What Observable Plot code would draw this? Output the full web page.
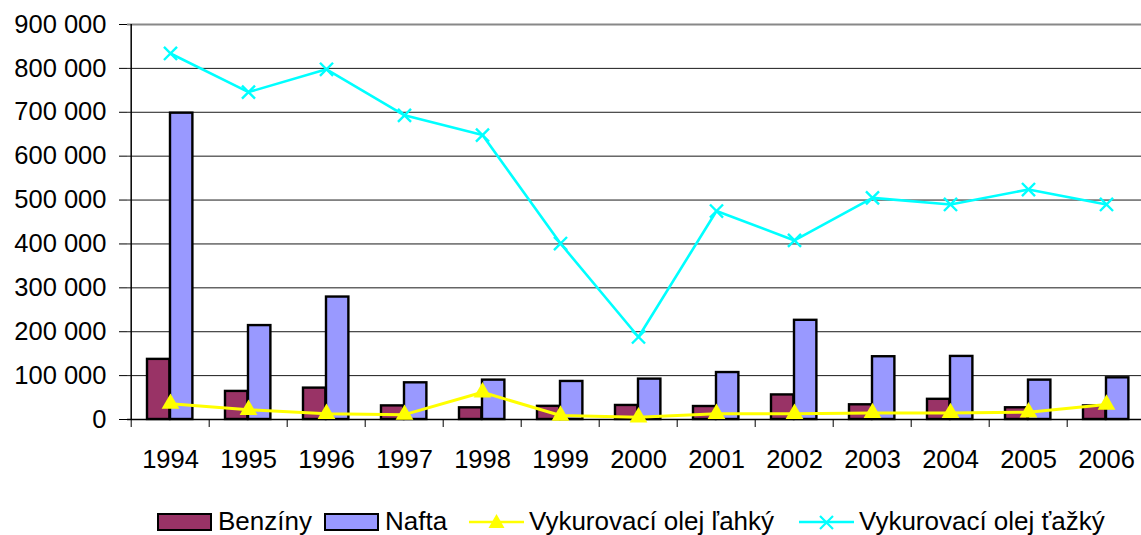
<!DOCTYPE html>
<html>
<head>
<meta charset="utf-8">
<script src="https://cdn.jsdelivr.net/npm/d3@7"></script>
<script src="https://cdn.jsdelivr.net/npm/@observablehq/plot@0.6"></script>
<style>
  html, body { margin: 0; padding: 0; background: #fff; overflow: hidden; }
  body { font-family: "Liberation Sans", Arial, sans-serif; color: #000; }
  #legend { position: relative; height: 55px; font-size: 26px; }
  .item { position: absolute; top: 28px; height: 27px; display: flex; align-items: center; white-space: nowrap; }
  .box { width: 55px; height: 18px; border: 2px solid #000; box-sizing: border-box; margin-right: 6px; }
  .item svg { margin-right: 5px; }
</style>
</head>
<body>
<div id="chart"></div>
<div id="legend"></div>
<script>
// ---- data ----
const years = ["1994","1995","1996","1997","1998","1999","2000","2001","2002","2003","2004","2005","2006"];
const benziny = [137000, 64000, 71500, 31000, 26600, 30000, 32000, 29600, 56000, 33500, 46000, 26700, 31000];
const nafta = [698000, 214000, 279000, 83600, 89700, 86700, 92000, 107000, 226000, 143000, 143700, 89700, 95000];
const olejLahky = [36000, 22000, 13000, 11000, 62000, 9000, 5000, 13000, 13000, 15000, 15000, 16500, 34000];
const olejTazky = [834000, 746000, 798000, 693000, 648000, 401000, 188000, 475000, 408000, 505000, 490000, 524000, 490000];
const yTicks = [0, 100000, 200000, 300000, 400000, 500000, 600000, 700000, 800000, 900000];
const seriesNames = ["Benzíny", "Nafta", "Vykurovací olej ľahký", "Vykurovací olej ťažký"];
const colors = ["#993366", "#9999FF", "#FFFF00", "#00FFFF"];

const rows = years.map((y, i) => ({year: y, benziny: benziny[i], nafta: nafta[i], lahky: olejLahky[i], tazky: olejTazky[i]}));
const fmt = d3.formatLocale({decimal: ",", thousands: "\u00a0", grouping: [3], currency: ["", ""]}).format(",");

const W = 1141, H = 480;
const xRange = [127, 1149];
const step = (xRange[1] - xRange[0]) / years.length;

const chart = Plot.plot({
  width: W,
  height: H,
  marginTop: 24,
  marginBottom: 61,
  marginLeft: 127,
  marginRight: 0,
  style: {fontFamily: '"Liberation Sans", Arial, sans-serif', fontSize: "25px", color: "#000", background: "#fff", overflow: "hidden"},
  x: {type: "band", domain: years, range: xRange, padding: 0, label: null},
  y: {domain: [0, 900000], label: null},
  marks: [
    Plot.gridY(yTicks.filter(v => v > 0 && v < 900000), {stroke: "#000", strokeOpacity: 0.9, strokeWidth: 1}),
    Plot.gridY([900000], {stroke: "#888", strokeOpacity: 1, strokeWidth: 2}),
    Plot.barY(rows, {x: "year", y: "benziny", fill: colors[0], stroke: "#000", strokeWidth: 2.4, insetLeft: 16, insetRight: step - 39}),
    Plot.barY(rows, {x: "year", y: "nafta", fill: colors[1], stroke: "#000", strokeWidth: 2.4, insetLeft: 39, insetRight: step - 62}),
    Plot.ruleY([0], {stroke: "#000", strokeWidth: 1.5}),
    Plot.ruleX([years[0]], {x: d => d, dx: -step / 2, y1: 0, y2: 900000, stroke: "#000", strokeWidth: 1.5}),
    Plot.axisY({ticks: yTicks, tickSize: 8, tickPadding: 13, tickFormat: fmt, fontSize: 25.5, stroke: "#000"}),
    Plot.axisX({tickSize: 8, tickFormat: () => "", dx: -step / 2, stroke: "#000"}),
    Plot.axisX({tickSize: 0, tickPadding: 30, fontSize: 25.5}),
    Plot.line(rows, {x: "year", y: "lahky", stroke: colors[2], strokeWidth: 3}),
    Plot.dot(rows, {x: "year", y: "lahky", symbol: "triangle", fill: colors[2], r: 6.6}),
    Plot.line(rows, {x: "year", y: "tazky", stroke: colors[3], strokeWidth: 2.6}),
    Plot.dot(rows, {x: "year", y: "tazky", symbol: "times", stroke: colors[3], strokeWidth: 2.4, r: 6})
  ]
});
document.getElementById("chart").appendChild(chart);

// ---- legend ----
const legend = document.getElementById("legend");
const lefts = [157, 324, 469, 799];
seriesNames.forEach((name, i) => {
  const item = document.createElement("div");
  item.className = "item";
  item.style.left = lefts[i] + "px";
  if (i < 2) {
    const b = document.createElement("div");
    b.className = "box";
    b.style.background = colors[i];
    item.appendChild(b);
  } else {
    const ns = "http://www.w3.org/2000/svg";
    const s = document.createElementNS(ns, "svg");
    s.setAttribute("width", 55); s.setAttribute("height", 20);
    const l = document.createElementNS(ns, "line");
    l.setAttribute("x1", 0); l.setAttribute("x2", 55); l.setAttribute("y1", 10); l.setAttribute("y2", 10);
    l.setAttribute("stroke", colors[i]); l.setAttribute("stroke-width", 2.5);
    s.appendChild(l);
    const p = document.createElementNS(ns, "path");
    if (i === 2) {
      p.setAttribute("d", "M27.5,2L35.5,16L19.5,16Z");
      p.setAttribute("fill", colors[i]);
    } else {
      p.setAttribute("d", "M21,4L34,17M34,4L21,17");
      p.setAttribute("stroke", colors[i]); p.setAttribute("stroke-width", 2.2);
    }
    s.appendChild(p);
    item.appendChild(s);
  }
  const t = document.createElement("span");
  t.textContent = name;
  item.appendChild(t);
  legend.appendChild(item);
});
</script>
</body>
</html>
